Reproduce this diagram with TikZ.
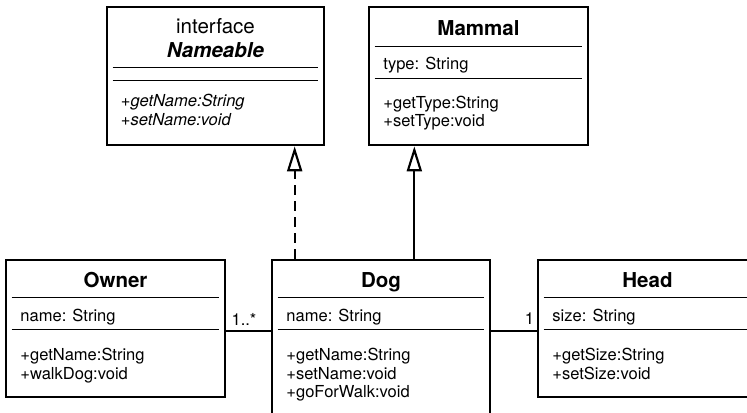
\documentclass[tikz,border=0pt]{standalone}
\usepackage{fontspec}
\setmainfont{TeX Gyre Heros}
\usetikzlibrary{arrows.meta,calc,fit}
\tikzset{
  classbox/.style={draw, line width=2pt, inner sep=0pt},
  sepline/.style={line width=0.8pt},
  title/.style={font=\fontsize{15.4}{18}\selectfont\bfseries, anchor=base, inner sep=0pt},
  member/.style={font=\fontsize{12.4}{14}\selectfont, anchor=base west, inner sep=0pt},
  abstract/.style={member, font=\fontsize{12.4}{14}\selectfont\itshape},
  hollow/.tip={Triangle[open, length=18.75pt, width=11.25pt]},
  realize/.style={line width=1.6pt, dash pattern=on 7pt off 5pt, -hollow},
  inherit/.style={line width=1.6pt, -hollow},
  assoc/.style={line width=1.6pt},
}
\begin{document}
\begin{tikzpicture}[x=0.75pt, y=-0.75pt]
\useasboundingbox (0,0) rectangle (747,413);
\clip (0,0) rectangle (747,413);
% class boxes
\node[classbox, fit={(107,7)(324,145)}] (nameable) {};
\node[classbox, fit={(369,7)(588,145)}] (mammal) {};
\node[classbox, fit={(6,260)(225,397)}] (owner) {};
\node[classbox, fit={(272,260)(490,430)}] (dog) {};
\node[classbox, fit={(538,260)(757,397)}] (head) {};
% compartments
\foreach \c/\a/\b in {nameable/62/75, mammal/41/73, owner/39/71, dog/39/71, head/39/71}
  \draw[sepline] ($(\c.north west)+(7,\a)$) -- ($(\c.north east)+(-7,\a)$)
    ($(\c.north west)+(7,\b)$) -- ($(\c.north east)+(-7,\b)$);
% titles
\node[title, font=\fontsize{15.4}{18}\selectfont] (nameableS) at ($(nameable.north)+(0,28)$) {interface};
\node[title, font=\fontsize{15.4}{18}\selectfont\bfseries\itshape] (nameableT) at ($(nameable.north)+(0,52)$) {Nameable};
\foreach \c/\t/\y in {mammal/Mammal/30, owner/Owner/29, dog/Dog/29, head/Head/29}
  \node[title] (\c T) at ($(\c.north)+(0,\y)$) {\t};
% members
\node[abstract] (nameableM1) at ($(nameable.north west)+(15,101)$) {+getName:String};
\node[abstract] (nameableM2) at ($(nameable.north west)+(15,120)$) {+setName:void};
\foreach \c/\y/\t [count=\i] in {
  mammal/64/{type: String}, mammal/102.5/{+getType:String}, mammal/121/{+setType:void},
  owner/63/{name: String}, owner/102/{+getName:String}, owner/120.5/{+walkDog:void},
  dog/63/{name: String}, dog/102/{+getName:String}, dog/120.5/{+setName:void}, dog/139/{+goForWalk:void},
  head/63/{size: String}, head/102/{+getSize:String}, head/120.5/{+setSize:void}}
  \node[member] (m\i) at ($(\c.north west)+(15.5,\y)$) {\t};
% relations
\coordinate (realizeS) at ($(dog.north west)+(24,0)$);
\coordinate (inheritS) at ($(dog.north east)+(-77,0)$);
\draw[realize] (realizeS) -- (realizeS |- nameable.south);
\draw[inherit] (inheritS) -- (inheritS |- mammal.south);
\coordinate (ownerA) at ($(owner.north east)+(0,72)$);
\coordinate (dogA) at ($(dog.north east)+(0,72)$);
\draw[assoc] (ownerA) -- (ownerA -| dog.west);
\draw[assoc] (dogA) -- (dogA -| head.west);
\node[member] (multOwner) at ($(owner.north east)+(5,67)$) {1..*};
\node[member] (multHead) at ($(head.north west)+(-12,66)$) {1};
\end{tikzpicture}
\end{document}
